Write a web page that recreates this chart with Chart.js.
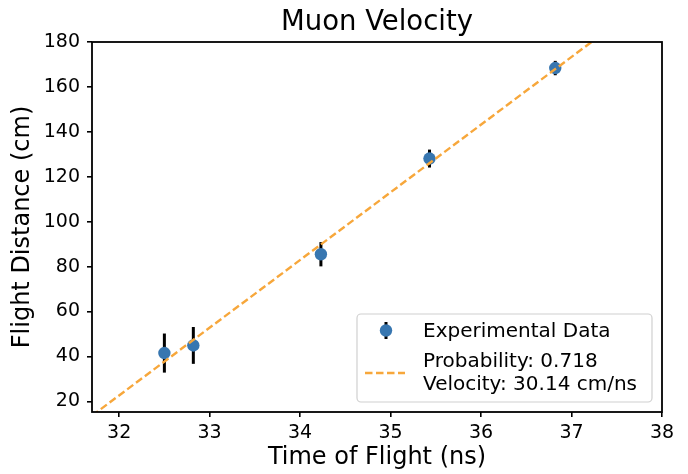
<!DOCTYPE html>
<html>
<head>
<meta charset="utf-8">
<script src="https://cdn.jsdelivr.net/npm/chart.js@4.4.0/dist/chart.umd.min.js"></script>
<style>
  html, body { margin: 0; padding: 0; background: #fff; }
  canvas { display: block; }
</style>
</head>
<body>
<canvas id="chart" width="688" height="474"></canvas>
<script>
// ── data ────────────────────────────────────────────────────────────────
const flightTime = [32.50, 32.82, 34.23, 35.43, 36.82];   // ns
const flightDist = [41.5, 44.9, 85.5, 128.1, 168.4];      // cm
const distError  = [8.7, 8.2, 5.4, 4.0, 3.2];             // ± cm
const fitTime = [31.70, 37.30];
const fitDist = [13.6, 182.4];
const xTicks = [32, 33, 34, 35, 36, 37, 38];
const yTicks = [20, 40, 60, 80, 100, 120, 140, 160, 180];
const legendLabels = ['Experimental Data', 'Probability: 0.718', 'Velocity: 30.14 cm/ns'];

const FONT = "'DejaVu Sans', 'Liberation Sans', sans-serif";
const COLORS = {
  point: '#3776b0',
  fit: '#f7a73b',
  ink: '#000000',
};

// ── plugins ─────────────────────────────────────────────────────────────
const errorBars = {
  id: 'errorBars',
  beforeDatasetsDraw(chart) {
    const { ctx, chartArea: a, scales: { x, y } } = chart;
    ctx.save();
    ctx.beginPath();
    ctx.rect(a.left, a.top, a.right - a.left, a.bottom - a.top);
    ctx.clip();
    ctx.strokeStyle = COLORS.ink;
    ctx.lineWidth = 3;
    flightTime.forEach((t, i) => {
      const px = x.getPixelForValue(t);
      ctx.beginPath();
      ctx.moveTo(px, y.getPixelForValue(flightDist[i] - distError[i]));
      ctx.lineTo(px, y.getPixelForValue(flightDist[i] + distError[i]));
      ctx.stroke();
    });
    ctx.restore();
  },
};

const frame = {
  id: 'frame',
  afterDraw(chart) {
    const { ctx, chartArea: a } = chart;
    ctx.save();
    // spines
    ctx.strokeStyle = COLORS.ink;
    ctx.lineWidth = 1.8;
    ctx.strokeRect(a.left, a.top, a.right - a.left, a.bottom - a.top);

    // title, centred over the axes
    ctx.fillStyle = COLORS.ink;
    ctx.font = `27.5px ${FONT}`;
    ctx.textAlign = 'center';
    ctx.textBaseline = 'alphabetic';
    ctx.fillText('Muon Velocity', (a.left + a.right) / 2, 29.5);

    // legend
    const bx = 357, by = 314, bw = 295, bh = 88;
    ctx.beginPath();
    ctx.roundRect(bx, by, bw, bh, 4);
    ctx.fillStyle = 'rgba(255,255,255,0.8)';
    ctx.fill();
    ctx.strokeStyle = '#d0d0d0';
    ctx.lineWidth = 1.2;
    ctx.stroke();

    // errorbar handle
    ctx.strokeStyle = COLORS.ink;
    ctx.lineWidth = 3;
    ctx.beginPath();
    ctx.moveTo(386, 322);
    ctx.lineTo(386, 339);
    ctx.stroke();
    ctx.fillStyle = COLORS.point;
    ctx.beginPath();
    ctx.arc(386, 330.5, 6.2, 0, Math.PI * 2);
    ctx.fill();

    // fit handle
    ctx.strokeStyle = COLORS.fit;
    ctx.lineWidth = 2.4;
    ctx.setLineDash([7.5, 3.5]);
    ctx.beginPath();
    ctx.moveTo(365, 373);
    ctx.lineTo(405, 373);
    ctx.stroke();
    ctx.setLineDash([]);

    ctx.fillStyle = COLORS.ink;
    ctx.font = `20px ${FONT}`;
    ctx.textAlign = 'left';
    ctx.fillText(legendLabels[0], 423, 337);
    ctx.fillText(legendLabels[1], 423, 367);
    ctx.fillText(legendLabels[2], 423, 390);
    ctx.restore();
  },
};

// ── chart ───────────────────────────────────────────────────────────────
const tickStyle = {
  color: COLORS.ink,
  font: { family: FONT, size: 19 },
};

new Chart(document.getElementById('chart'), {
  type: 'scatter',
  data: {
    datasets: [
      {
        label: 'Fit',
        data: fitTime.map((t, i) => ({ x: t, y: fitDist[i] })),
        showLine: true,
        borderColor: COLORS.fit,
        borderWidth: 2.4,
        borderDash: [7.5, 3.5],
        pointRadius: 0,
        clip: 0,
        order: 0,
      },
      {
        label: 'Experimental Data',
        data: flightTime.map((t, i) => ({ x: t, y: flightDist[i] })),
        backgroundColor: COLORS.point,
        borderWidth: 0,
        pointRadius: 6.2,
        order: 1,
      },
    ],
  },
  options: {
    responsive: false,
    animation: false,
    events: [],
    layout: { padding: { left: 0, right: 26, top: 42, bottom: 0 } },
    plugins: {
      legend: { display: false },
      title: { display: false },
      tooltip: { enabled: false },
    },
    scales: {
      x: {
        type: 'linear',
        min: 31.70,
        max: 38,
        afterFit: s => { s.height = 62; },
        afterBuildTicks: s => { s.ticks = xTicks.map(v => ({ value: v })); },
        border: { display: false },
        grid: { drawOnChartArea: false, drawTicks: true, tickLength: 5, color: COLORS.ink, lineWidth: 1.6 },
        ticks: { ...tickStyle, padding: 5, maxRotation: 0 },
        title: {
          display: true,
          text: 'Time of Flight (ns)',
          color: COLORS.ink,
          font: { family: FONT, size: 24 },
          padding: { top: 0, bottom: 2 },
        },
      },
      y: {
        type: 'linear',
        min: 15.26,
        max: 180,
        afterFit: s => { s.width = 92; },
        afterBuildTicks: s => { s.ticks = yTicks.map(v => ({ value: v })); },
        border: { display: false },
        grid: { drawOnChartArea: false, drawTicks: true, tickLength: 5, color: COLORS.ink, lineWidth: 1.6 },
        ticks: { ...tickStyle, padding: 7 },
        title: {
          display: true,
          text: 'Flight Distance (cm)',
          color: COLORS.ink,
          font: { family: FONT, size: 24 },
          padding: { top: 8, bottom: 0 },
        },
      },
    },
  },
  plugins: [errorBars, frame],
});
</script>
</body>
</html>
